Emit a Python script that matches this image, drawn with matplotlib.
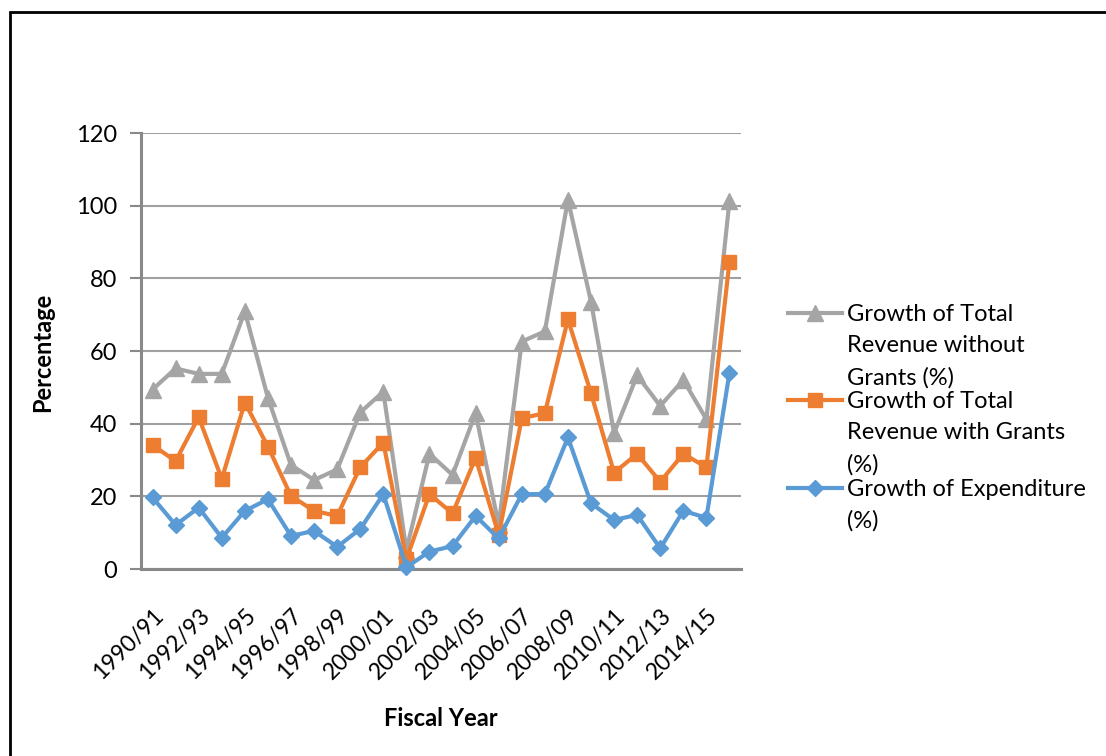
import matplotlib
matplotlib.use("Agg")
import matplotlib.pyplot as plt
import matplotlib.transforms as mtrans
from matplotlib.lines import Line2D
from matplotlib.patches import Rectangle

# Fiscal years on the category axis
fiscal_years = [
    "1990/91", "1991/92", "1992/93", "1993/94", "1994/95", "1995/96",
    "1996/97", "1997/98", "1998/99", "1999/00", "2000/01", "2001/02",
    "2002/03", "2003/04", "2004/05", "2005/06", "2006/07", "2007/08",
    "2008/09", "2009/10", "2010/11", "2011/12", "2012/13", "2013/14",
    "2014/15", "2015/16",
]

# Growth rates (%)
revenue_without_grants = [
    49.4, 55.2, 53.7, 53.7, 70.9, 47.1, 28.6, 24.5, 27.4, 43.1, 48.8, 5.2, 31.7,
    25.9, 42.9, 12.1, 62.6, 65.4, 101.6, 73.6, 37.4, 53.3, 44.9, 52.0, 41.2, 101.3,
]
revenue_with_grants = [
    34.1, 29.7, 41.8, 24.8, 45.8, 33.7, 20.1, 16.0, 14.6, 28.0, 34.8, 2.7, 20.6,
    15.3, 30.6, 9.4, 41.5, 42.9, 68.7, 48.4, 26.5, 31.7, 24.0, 31.7, 28.0, 84.6,
]
expenditure = [
    19.7, 12.1, 16.9, 8.6, 16.0, 19.2, 9.1, 10.5, 6.1, 11.0, 20.6, 0.5, 4.8,
    6.3, 14.6, 8.4, 20.6, 20.6, 36.2, 18.1, 13.5, 14.9, 5.7, 16.0, 14.1, 54.0,
]

series_labels = [
    "Growth of Total\nRevenue without\nGrants (%)",
    "Growth of Total\nRevenue with Grants\n(%)",
    "Growth of Expenditure\n(%)",
]

GRAY = "#A5A5A5"
ORANGE = "#ED7D31"
BLUE = "#5B9BD5"
AXIS = "#898989"
GRID = "#A0A0A0"

plt.rcParams["font.family"] = ["Lato", "DejaVu Sans"]
FS = 17

W, H = 1106, 756
fig = plt.figure(figsize=(W / 100, H / 100), dpi=100)
ax = fig.add_axes([141 / W, 1 - 569 / H, 600 / W, 436 / H])

x = list(range(len(fiscal_years)))
styles = [
    (revenue_without_grants, GRAY, "^", 12),
    (revenue_with_grants, ORANGE, "s", 10),
    (expenditure, BLUE, "D", 8),
]
for values, color, marker, ms in styles:
    ax.plot(x, values, color=color, lw=3.0, marker=marker, ms=ms,
            markeredgecolor=color, markerfacecolor=color, clip_on=False, zorder=3)

ax.set_xlim(-0.5, len(fiscal_years) - 0.5)
ax.set_ylim(0, 120)
ax.set_yticks(range(0, 121, 20))
ax.yaxis.grid(True, color=GRID, lw=1.5)
ax.set_axisbelow(True)

ax.set_xticks(x[::2])
ax.set_xticklabels(fiscal_years[::2], rotation=45, ha="right", va="top",
                   rotation_mode="anchor", fontsize=16.5)
shift = mtrans.ScaledTranslation(10 / 100, 0, fig.dpi_scale_trans)
for lbl in ax.get_xticklabels():
    lbl.set_transform(lbl.get_transform() + shift)
ax.tick_params(axis="x", length=0, pad=26)
ax.tick_params(axis="y", length=8, width=1.5, color=AXIS, pad=9, labelsize=FS)

for side in ("top", "right"):
    ax.spines[side].set_visible(False)
for side in ("left", "bottom"):
    ax.spines[side].set_color(AXIS)
    ax.spines[side].set_linewidth(2.2)

fig.text(43 / W, 1 - 352 / H, "Percentage", fontsize=FS, fontweight="bold",
         rotation=90, ha="center", va="center")
fig.text(441 / W, 1 - 718 / H, "Fiscal Year", fontsize=FS, fontweight="bold",
         ha="center", va="center")

# Legend drawn beside the plot, marker level with each entry's first line
legend_rows = [313, 400, 488]
for (values, color, marker, ms), label, yrow in zip(styles, series_labels, legend_rows):
    yf = 1 - yrow / H
    fig.add_artist(Line2D([788 / W, 815 / W, 842 / W], [yf, yf, yf],
                          transform=fig.transFigure, color=color, lw=3.0,
                          marker=marker, ms=ms, markevery=[1],
                          markeredgecolor=color, markerfacecolor=color))
    fig.text(847 / W, 1 - (yrow - 9) / H, label, fontsize=FS, ha="left",
             va="top", linespacing=1.6)

# Outer frame
fig.add_artist(Rectangle((10 / W, -0.1), 1.2, 1 - 12 / H + 0.1,
                         transform=fig.transFigure, fill=False,
                         edgecolor="black", lw=2.0))

fig.savefig("out.png", dpi=100)
